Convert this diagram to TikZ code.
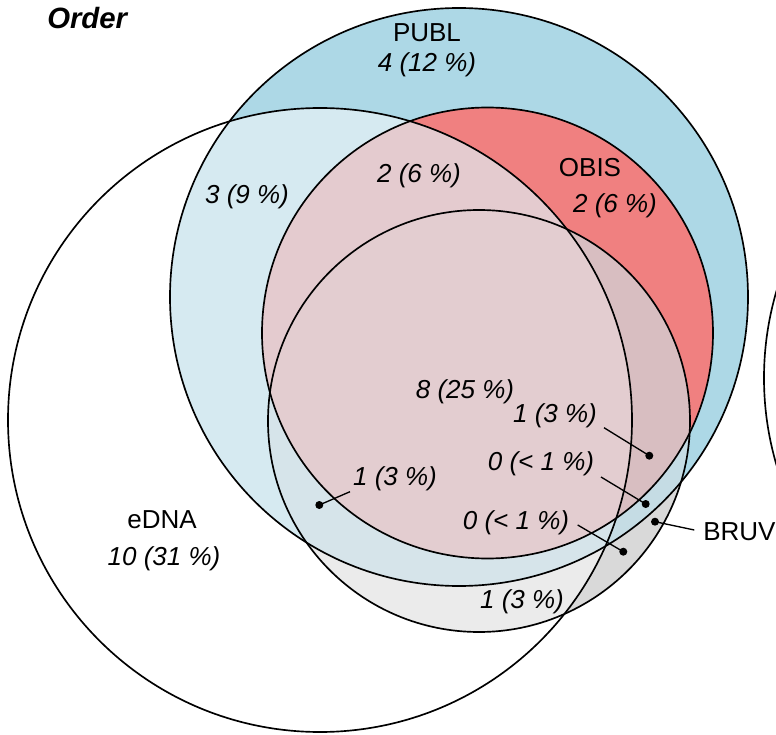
\documentclass[tikz,border=0pt]{standalone}
\usepackage{fontspec}
\setmainfont{Liberation Sans}
\definecolor{cPUBL}{RGB}{173,216,230}
\definecolor{cOBIS}{RGB}{240,128,128}
\definecolor{cBRUV}{RGB}{217,217,217}
\definecolor{cPB}{RGB}{197,220,228}
\definecolor{cOB}{RGB}{216,190,193}
\definecolor{cEP}{RGB}{214,234,241}
\definecolor{cEO}{RGB}{228,203,207}
\definecolor{cEB}{RGB}{235,235,235}
\definecolor{cEPB}{RGB}{214,228,234}
\definecolor{cALL}{RGB}{227,205,208}
\def\circEDNA{(320,420) circle[radius=312]}
\def\circPUBL{(459,297) circle[radius=289]}
\def\circOBIS{(487.5,333) circle[radius=225.5]}
\def\circBRUV{(479,421) circle[radius=211]}
\def\circRIGHT{(1071,378) circle[radius=307]}
\begin{document}
\begin{tikzpicture}[x=0.75pt,y=-0.75pt,
  outline/.style={draw=black,line width=1.25pt},
  lab/.style={font=\fontsize{19.5}{23}\selectfont,inner sep=0pt,anchor=base},
  num/.style={font=\fontsize{19.5}{23}\selectfont\itshape,inner sep=0pt,anchor=base},
  leader/.style={draw=black,line width=1pt},
  dotmark/.style={circle,fill=black,inner sep=0pt,minimum size=6pt}]
\useasboundingbox (0,0) rectangle (776,735);
\begin{scope}
\clip (0,0) rectangle (776,735);
% base fills
\fill[white] \circEDNA;
\fill[cPUBL] \circPUBL;
\fill[cOBIS] \circOBIS;
\fill[cBRUV] \circBRUV;
\begin{scope}
  \clip \circBRUV;
  \fill[cPB] \circPUBL;
  \fill[cOB] \circOBIS;
\end{scope}
\begin{scope}
  \clip \circEDNA;
  \fill[cEP] \circPUBL;
  \fill[cEO] \circOBIS;
  \begin{scope}
    \clip \circBRUV;
    \fill[cEB] \circBRUV;
    \fill[cEPB] \circPUBL;
    \fill[cALL] \circOBIS;
  \end{scope}
\end{scope}
% outlines
\draw[outline] \circEDNA;
\draw[outline] \circPUBL;
\draw[outline] \circOBIS;
\draw[outline] \circBRUV;
\draw[outline] \circRIGHT;
\end{scope}
% title
\node[font=\fontsize{22}{26}\selectfont\bfseries\itshape,inner sep=0pt,anchor=base west] (title) at (47,28.5) {Order};
% labels
\node[lab] (tPUBL) at (427,42) {PUBL};
\node[num] (nPUBL) at (427,72) {4 (12 \%)};
\node[lab] (tOBIS) at (590,177) {OBIS};
\node[num] (nOBIS) at (615,213) {2 (6 \%)};
\node[lab] (tEDNA) at (162,528) {eDNA};
\node[num] (nEDNA) at (164,565) {10 (31 \%)};
\node[num] (nEP) at (247,204) {3 (9 \%)};
\node[num] (nEPO) at (419,183) {2 (6 \%)};
\node[num] (nALL) at (465,398) {8 (25 \%)};
\node[num] (nOPB) at (555,422) {1 (3 \%)};
\node[num] (nPB) at (541,470) {0 (< 1 \%)};
\node[num] (nEPB) at (395,485) {1 (3 \%)};
\node[num] (nB2) at (516,529) {0 (< 1 \%)};
\node[num] (nEB) at (522,608) {1 (3 \%)};
\node[lab,anchor=base west] (tBRUV) at (703,540) {BRUV};
% leaders
\coordinate (a1) at (604,427.7);
\node[dotmark] (d1) at (649.3,455.7) {};
\draw[leader] (a1) -- (d1.center);
\coordinate (a2) at (601,477);
\node[dotmark] (d2) at (645.7,504) {};
\draw[leader] (a2) -- (d2.center);
\coordinate (a3) at (577.7,525);
\node[dotmark] (d3) at (623.3,551.7) {};
\draw[leader] (a3) -- (d3.center);
\coordinate (a4) at (350,491.7);
\node[dotmark] (d4) at (319.3,505) {};
\draw[leader] (a4) -- (d4.center);
\coordinate (a5) at (694.3,530);
\node[dotmark] (d5) at (655,521.7) {};
\draw[leader] (a5) -- (d5.center);
\end{tikzpicture}
\end{document}
